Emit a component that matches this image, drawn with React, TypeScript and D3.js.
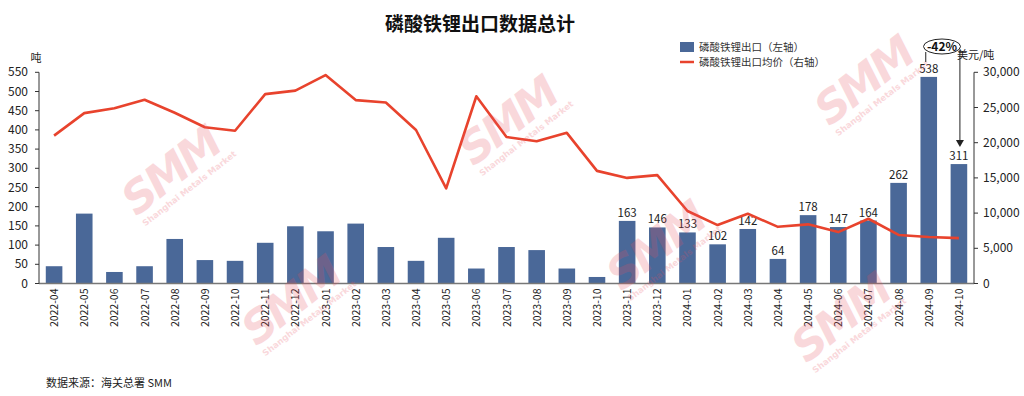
import React from "react";
import * as d3 from "d3";

const categories = [
  "2022-04","2022-05","2022-06","2022-07","2022-08","2022-09","2022-10","2022-11","2022-12",
  "2023-01","2023-02","2023-03","2023-04","2023-05","2023-06","2023-07","2023-08","2023-09","2023-10","2023-11","2023-12",
  "2024-01","2024-02","2024-03","2024-04","2024-05","2024-06","2024-07","2024-08","2024-09","2024-10",
];
const exportVolume = [45,182,30,45,116,61,59,106,149,136,156,95,59,119,39,95,87,39,17,163,146,133,102,142,64,178,147,164,262,538,311];
const showLabel = categories.map((c) => c >= "2023-11");
const avgPrice = [21000,24200,24900,26100,24250,22200,21700,26900,27400,29600,26050,25700,21800,13500,26600,20800,20200,21400,16000,15000,15400,10300,8300,9900,8050,8400,7300,9200,6900,6600,6450];
const leftTicks = [0,50,100,150,200,250,300,350,400,450,500,550];
const rightTicks = [0,5000,10000,15000,20000,25000,30000];
const title = "磷酸铁锂出口数据总计";
const legendBar = "磷酸铁锂出口（左轴）";
const legendLine = "磷酸铁锂出口均价（右轴）";
const leftUnit = "吨";
const rightUnit = "美元/吨";
const changeLabel = "-42%";
const source = "数据来源：海关总署 SMM";
const watermarks: [number, number][] = [[180,183],[517,133],[873,93],[300,313],[665,258],[850,330]];

const W = 1024, H = 396;
const left = 39, right = 974, top = 72.3, bottom = 283.5;
const font = "'Noto Sans CJK SC', 'Noto Sans', sans-serif";
const barColor = "#4a6898";
const lineColor = "#e8432d";

export default function App() {
  const x = d3.scaleBand<string>().domain(categories).range([left, right]).paddingInner(0.45).paddingOuter(0.225);
  const yL = d3.scaleLinear().domain([0, 550]).range([bottom, top]);
  const yR = d3.scaleLinear().domain([0, 30000]).range([bottom, top]);
  const cx = (c: string) => (x(c) ?? 0) + x.bandwidth() / 2;
  const line = d3.line<number>().x((_, i) => cx(categories[i])).y((d) => yR(d));
  const fmt = d3.format(",");
  const c29 = cx(categories[29]);
  const c30 = cx(categories[30]);
  return (
    <svg width={W} height={H} style={{ position: "absolute", left: 0, top: 0, background: "#fff" }} fontFamily={font}>
      <text x={480} y={31} textAnchor="middle" fontSize={19} fontWeight={700} fill="#111">{title}</text>
      {categories.map((c, i) => (
        <rect key={c} x={x(c)} y={yL(exportVolume[i])} width={x.bandwidth()} height={bottom - yL(exportVolume[i])} fill={barColor} />
      ))}
      {categories.map((c, i) => showLabel[i] ? (
        <text key={"l" + c} x={cx(c)} y={yL(exportVolume[i]) - 4} textAnchor="middle" fontSize={11.5} fill="#222">{exportVolume[i]}</text>
      ) : null)}
      <path d={line(avgPrice) ?? ""} fill="none" stroke={lineColor} strokeWidth={2.6} strokeLinejoin="round" />
      <line x1={left} x2={right} y1={bottom} y2={bottom} stroke="#777" strokeWidth={1.5} />
      <line x1={left} x2={left} y1={top} y2={bottom} stroke="#333" strokeWidth={1} />
      {leftTicks.map((t) => (
        <g key={"lt" + t}>
          <line x1={left - 4} x2={left} y1={yL(t)} y2={yL(t)} stroke="#333" />
          <text x={28} y={yL(t) + 4} textAnchor="end" fontSize={12} fill="#222">{t}</text>
        </g>
      ))}
      <line x1={right} x2={right} y1={top} y2={bottom} stroke="#333" strokeWidth={1} />
      {rightTicks.map((t) => (
        <g key={"rt" + t}>
          <line x1={right} x2={right + 4} y1={yR(t)} y2={yR(t)} stroke="#333" />
          <text x={983} y={yR(t) + 4} textAnchor="start" fontSize={12} fill="#222">{fmt(t)}</text>
        </g>
      ))}
      {categories.map((c) => (
        <text key={"x" + c} transform={`translate(${cx(c) + 4},${bottom + 5}) rotate(-90)`} textAnchor="end" fontSize={10.5} fill="#222">{c}</text>
      ))}
      <text x={36} y={62} textAnchor="middle" fontSize={11} fill="#222">{leftUnit}</text>
      <text x={957} y={59} textAnchor="start" fontSize={11} fill="#222">{rightUnit}</text>
      <rect x={680} y={42} width={14} height={10} fill={barColor} />
      <text x={699} y={51} fontSize={10.5} fill="#333">{legendBar}</text>
      <line x1={680} x2={694} y1={62} y2={62} stroke={lineColor} strokeWidth={2.5} />
      <text x={699} y={66} fontSize={10.5} fill="#333">{legendLine}</text>
      <line x1={c29 - 3} x2={c29 - 3} y1={52} y2={62} stroke="#222" strokeWidth={1} />
      <line x1={c30 + 1} x2={c30 + 1} y1={50} y2={141} stroke="#222" strokeWidth={1} />
      <path d={`M${c30 + 1 - 4},${140} L${c30 + 1 + 4},${140} L${c30 + 1},${147} Z`} fill="#222" />
      <ellipse cx={942} cy={46.5} rx={18.5} ry={7.5} fill="#fff" stroke="#222" strokeWidth={1} />
      <text x={942} y={51} textAnchor="middle" fontSize={12} fontWeight={700} fill="#111">{changeLabel}</text>
      <text x={46} y={387} fontSize={11} fill="#222">{source}</text>
      {watermarks.map(([wx, wy], i) => (
        <g key={"w" + i} transform={`translate(${wx},${wy}) rotate(-38)`} opacity={0.22} pointerEvents="none">
          <text x={0} y={0} textAnchor="middle" fontSize={44} fontWeight={900} fontStyle="italic" fill="#e8505e" fontFamily="'DejaVu Sans', sans-serif" letterSpacing={-3}>SMM</text>
          <text x={4} y={13} textAnchor="middle" fontSize={8.5} fontWeight={700} fill="#e8505e" fontFamily="'DejaVu Sans', sans-serif">Shanghai Metals Market</text>
        </g>
      ))}
    </svg>
  );
}
